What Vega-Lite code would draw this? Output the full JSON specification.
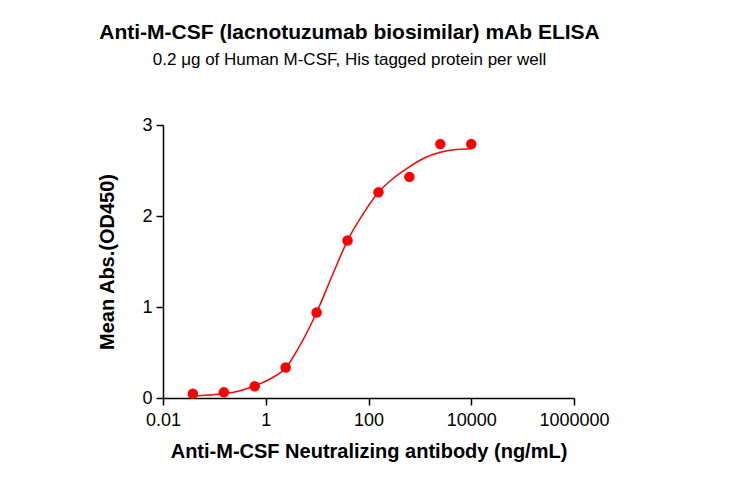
{
  "$schema": "https://vega.github.io/schema/vega-lite/v6.json",
  "width": 411,
  "height": 273,
  "autosize": {"type": "none"},
  "padding": {"left": 163, "top": 125, "right": 156, "bottom": 80},
  "background": "white",
  "config": {
    "view": {"stroke": null},
    "font": "Liberation Sans",
    "axis": {
      "grid": false,
      "domainColor": "black",
      "domainWidth": 1.5,
      "tickColor": "black",
      "tickWidth": 1.5,
      "tickSize": 7,
      "labelFlush": false,
      "labelOverlap": false,
      "labelFont": "Liberation Sans",
      "labelFontSize": 18,
      "labelColor": "black",
      "titleFont": "Liberation Sans",
      "titleFontSize": 20,
      "titleFontWeight": "bold",
      "titleColor": "black"
    }
  },
  "title": {
    "text": "Anti-M-CSF (lacnotuzumab biosimilar) mAb ELISA",
    "subtitle": "0.2 μg of Human M-CSF, His tagged protein per well",
    "font": "Liberation Sans",
    "fontSize": 21,
    "fontWeight": "bold",
    "color": "black",
    "subtitleFont": "Liberation Sans",
    "subtitleFontSize": 17,
    "subtitleColor": "black",
    "subtitlePadding": 9,
    "anchor": "middle",
    "dx": -19,
    "offset": 48
  },
  "datasets": {
    "points": [
      {"conc": 0.0381, "od": 0.047},
      {"conc": 0.153, "od": 0.062},
      {"conc": 0.61, "od": 0.13},
      {"conc": 2.44, "od": 0.335},
      {"conc": 9.77, "od": 0.94},
      {"conc": 39.06, "od": 1.73},
      {"conc": 156.25, "od": 2.26},
      {"conc": 625, "od": 2.43},
      {"conc": 2500, "od": 2.79},
      {"conc": 10000, "od": 2.79}
    ],
    "curve": [
      {"conc": 0.0381, "od": 0.022},
      {"conc": 0.0763, "od": 0.032},
      {"conc": 0.153, "od": 0.047},
      {"conc": 0.305, "od": 0.078},
      {"conc": 0.61, "od": 0.135},
      {"conc": 1.22, "od": 0.21},
      {"conc": 2.44, "od": 0.33},
      {"conc": 4.88, "od": 0.6},
      {"conc": 9.77, "od": 0.94},
      {"conc": 19.5, "od": 1.34},
      {"conc": 39.06, "od": 1.73},
      {"conc": 78.1, "od": 2.02},
      {"conc": 156.25, "od": 2.26},
      {"conc": 312.5, "od": 2.42},
      {"conc": 625, "od": 2.54},
      {"conc": 1250, "od": 2.64},
      {"conc": 2500, "od": 2.7},
      {"conc": 5000, "od": 2.73},
      {"conc": 10000, "od": 2.74}
    ]
  },
  "encoding": {
    "x": {
      "field": "conc",
      "type": "quantitative",
      "scale": {"type": "log", "domain": [0.01, 1000000], "nice": false},
      "axis": {
        "values": [0.01, 1, 100, 10000, 1000000],
        "format": ".2~f",
        "title": "Anti-M-CSF Neutralizing antibody (ng/mL)",
        "titlePadding": 12,
        "labelPadding": 6
      }
    },
    "y": {
      "field": "od",
      "type": "quantitative",
      "scale": {"domain": [0, 3], "nice": false},
      "axis": {
        "values": [0, 1, 2, 3],
        "title": "Mean Abs.(OD450)",
        "titlePadding": 24,
        "labelPadding": 4
      }
    }
  },
  "layer": [
    {
      "data": {"name": "curve"},
      "mark": {"type": "line", "color": "#ff0000", "strokeWidth": 1.5, "interpolate": "monotone"}
    },
    {
      "data": {"name": "points"},
      "mark": {"type": "circle", "color": "#ff0000", "opacity": 1, "size": 110}
    }
  ]
}
